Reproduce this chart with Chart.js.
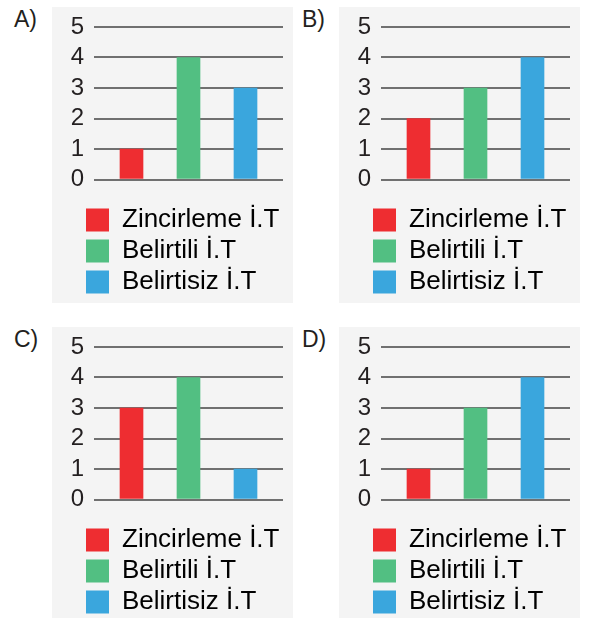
<!DOCTYPE html>
<html>
<head>
<meta charset="utf-8">
<script src="https://cdn.jsdelivr.net/npm/chart.js@4"></script>
<style>
  html, body { margin: 0; padding: 0; background: #fff; }
  body { width: 590px; height: 618px; position: relative; overflow: hidden; font-family: "Liberation Sans", Arial, sans-serif; }
  .panel-bg { position: absolute; background: #f4f4f4; width: 241px; height: 296px; }
  .panel-label { position: absolute; font-size: 23px; line-height: 23px; color: #231f20; }
  canvas { position: absolute; }
</style>
</head>
<body>
<script>
// categories / legend
const categories = ['Zincirleme İ.T', 'Belirtili İ.T', 'Belirtisiz İ.T'];
const barColors = ['#ee2d31', '#52bf82', '#3aa6dd'];

// values of each option
const valuesA = [1, 4, 3];
const valuesB = [2, 3, 4];
const valuesC = [3, 4, 1];
const valuesD = [1, 3, 4];

const panelLabels = ['A)', 'B)', 'C)', 'D)'];
const yTicks = [0, 1, 2, 3, 4, 5];

const panels = [
    { label: panelLabels[0], values: valuesA, x: 52,  y: 7,   lx: 14,  ly: 8 },
    { label: panelLabels[1], values: valuesB, x: 339, y: 7,   lx: 302, ly: 8 },
    { label: panelLabels[2], values: valuesC, x: 52,  y: 327, lx: 14,  ly: 328 },
    { label: panelLabels[3], values: valuesD, x: 339, y: 327, lx: 302, ly: 328 }
];

const textColor = '#231f20';
const gridColor = '#707070';

// legend sits further right than the y axis labels
const legendShift = {
    id: 'legendShift',
    afterLayout(chart) {
        const dx = 29 - chart.legend.left;
        chart.legend.left += dx;
        chart.legend.right += dx;
    }
};

panels.forEach(p => {
    const bg = document.createElement('div');
    bg.className = 'panel-bg';
    bg.style.left = p.x + 'px';
    bg.style.top = p.y + 'px';
    document.body.appendChild(bg);

    const lbl = document.createElement('div');
    lbl.className = 'panel-label';
    lbl.style.left = p.lx + 'px';
    lbl.style.top = p.ly + 'px';
    lbl.textContent = p.label;
    document.body.appendChild(lbl);

    const canvas = document.createElement('canvas');
    canvas.width = 241;
    canvas.height = 300;
    canvas.style.left = p.x + 'px';
    canvas.style.top = p.y + 'px';
    document.body.appendChild(canvas);

    new Chart(canvas.getContext('2d'), {
        type: 'bar',
        data: {
            labels: categories,
            datasets: [{
                data: p.values,
                backgroundColor: barColors,
                barThickness: 23,
                borderWidth: 0
            }]
        },
        options: {
            responsive: false,
            animation: false,
            layout: { padding: { left: 17, right: 10, top: 20, bottom: 2 } },
            scales: {
                x: {
                    display: true,
                    grid: { display: false },
                    border: { display: false },
                    ticks: { display: false },
                    afterFit: s => { s.height = 22.5; }
                },
                y: {
                    position: 'left',
                    min: 0,
                    max: 5,
                    afterBuildTicks: s => { s.ticks = yTicks.map(v => ({ value: v })); },
                    afterFit: s => { s.width = 34; },
                    grid: { color: gridColor, lineWidth: 2, drawTicks: true, tickLength: 9 },
                    border: { display: false },
                    ticks: {
                        autoSkip: false,
                        padding: 10,
                        color: textColor,
                        font: { family: 'Liberation Sans', size: 24, lineHeight: 0.8 }
                    }
                },
                y2: {
                    position: 'right',
                    min: 0,
                    max: 5,
                    afterBuildTicks: s => { s.ticks = yTicks.map(v => ({ value: v })); },
                    grid: { color: gridColor, lineWidth: 2, drawTicks: true, tickLength: 9 },
                    border: { display: false },
                    ticks: { display: false }
                }
            },
            plugins: {
                tooltip: { enabled: false },
                legend: {
                    position: 'bottom',
                    align: 'start',
                    labels: {
                        boxWidth: 23,
                        boxHeight: 23,
                        padding: 5,
                        color: textColor,
                        font: { family: 'Liberation Sans', size: 26 },
                        generateLabels: () => categories.map((c, i) => ({
                            text: c,
                            fillStyle: barColors[i],
                            strokeStyle: barColors[i],
                            lineWidth: 0,
                            hidden: false,
                            index: i
                        }))
                    }
                }
            }
        },
        plugins: [legendShift]
    });
});
</script>
</body>
</html>
